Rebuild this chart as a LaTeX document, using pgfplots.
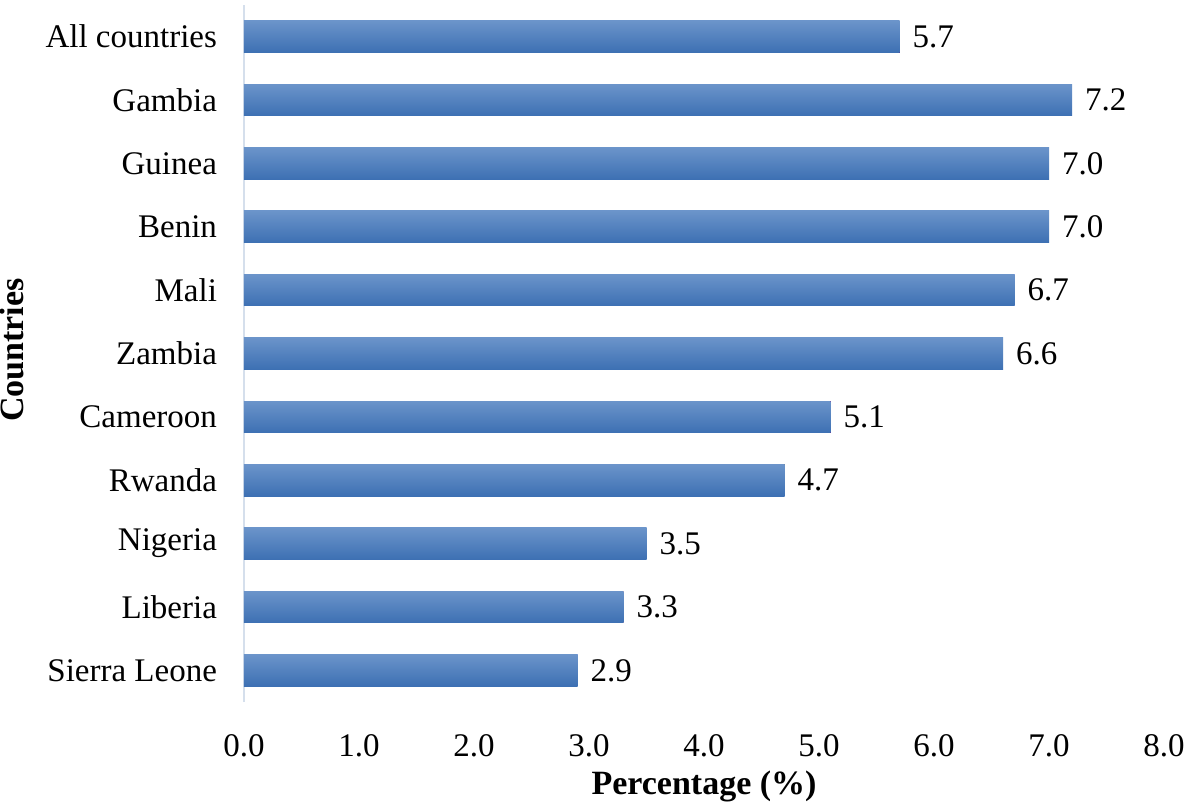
\documentclass[border=0pt]{standalone}
\usepackage{pgfplots}
\pgfplotsset{compat=1.18}
\usepackage{fontspec}
\setmainfont{Liberation Serif}
\definecolor{bartop}{HTML}{6B94CA}
\definecolor{barbot}{HTML}{3D70B3}
\definecolor{axcol}{HTML}{D5DFEC}
\begin{document}
\begin{tikzpicture}[font=\fontsize{16.5}{19.5}\selectfont]
\useasboundingbox (0,0) rectangle (592pt,402pt);
\begin{axis}[
  at={(122pt,51pt)}, anchor=south west,
  scale only axis, width=460pt, height=348.5pt,
  xbar, bar width=0.5, bar shift=0pt,
  xmin=0, xmax=8, ymin=-0.5, ymax=10.5,
  xtick={0,1,...,8},
  ytick={0,...,10},
  yticklabels={Sierra Leone\ ,Liberia,Nigeria\ ,Rwanda\ ,Cameroon\ ,Zambia,Mali\ ,Benin\ ,Guinea,Gambia,All countries},
  /pgf/number format/assume math mode=true,
  xticklabel={\pgfmathprintnumber[fixed,fixed zerofill,precision=1]{\tick}},
  major tick length=0pt,
  axis x line*=bottom, axis y line*=left,
  x axis line style={draw=none},
  y axis line style={draw=axcol, line width=1pt, -},
  xticklabel style={yshift=-12.5pt},
  yticklabel style={xshift=-10pt},
  xlabel={\fontsize{17}{20}\selectfont\bfseries Percentage (\%)},
  ylabel={\fontsize{17}{20}\selectfont\bfseries Countries},
  xlabel style={at={(axis description cs:0.5,-0.1205)}, anchor=center},
  ylabel style={at={(axis description cs:-0.252,0.505)}, anchor=center},
  nodes near coords={\pgfmathprintnumber[fixed,fixed zerofill,precision=1]{\pgfplotspointmeta}},
  nodes near coords style={anchor=west, xshift=3pt, text=black, /pgf/number format/assume math mode=true},
  every axis plot/.append style={draw=none, top color=bartop, bottom color=barbot},
  clip=false,
]
\addplot coordinates {(2.9,0)};
\addplot coordinates {(3.3,1)};
\addplot coordinates {(3.5,2)};
\addplot coordinates {(4.7,3)};
\addplot coordinates {(5.1,4)};
\addplot coordinates {(6.6,5)};
\addplot coordinates {(6.7,6)};
\addplot coordinates {(7.0,7)};
\addplot coordinates {(7.0,8)};
\addplot coordinates {(7.2,9)};
\addplot coordinates {(5.7,10)};
\end{axis}
\end{tikzpicture}
\end{document}
